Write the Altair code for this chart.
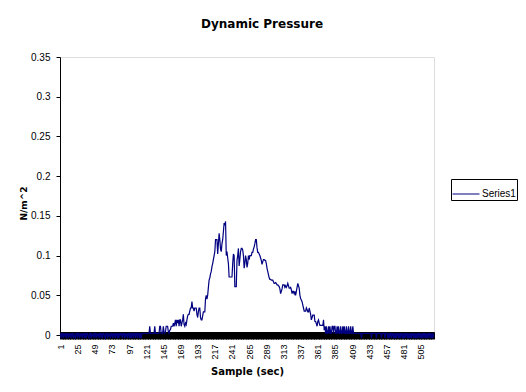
import altair as alt
import pandas as pd

# ---- data ----
quiet_start = [
    0.002, -0.004, 0.002, 0.002, -0.004, 0.002, -0.002, 0.002, -0.004, 0.002, 0.002, -0.004, 0.002,
    -0.002, 0.002, -0.004, 0.002, 0.002, -0.004, 0.002, -0.002, -0.004, 0.002, 0.002, -0.004,
    0.002, 0.002, -0.004, 0.002, -0.002, 0.002, -0.004, 0.002, 0.002, -0.004, 0.002, -0.004, 0.002,
    0.002, -0.002, -0.004, 0.002, 0.002, -0.004, 0.002, -0.002, 0.002, -0.004, 0.002, 0.002,
    -0.004, 0.002, -0.002, 0.002, -0.004, 0.002, 0.002, -0.004, 0.002, -0.004, 0.002, 0.002, -0.002,
    -0.004, 0.002, 0.002, -0.004, 0.002, -0.002, 0.002, -0.004, 0.002, 0.002, -0.004, 0.002,
    -0.002, 0.002, -0.004, 0.002, 0.002, -0.004, 0.002, -0.004, 0.002, 0.002, -0.002, 0.002, -0.004,
    0.002, 0.002, -0.004, 0.002, -0.002, 0.002, -0.004, 0.002, 0.002, -0.004, 0.002, -0.004,
    0.002, 0.002, -0.004, 0.002, 0.002, -0.004, 0.002, 0.002, -0.004, 0.002, 0.002, -0.004, 0.002,
    -0.004, 0.002, 0.002, 0.002, 0.002, 0.002, 0.002, 0.002, 0.002, 0.002, 0.002, 0.002,
]
rise = [
    0.011, 0.002, 0.002, 0.002, 0.002, 0.002, 0.002, 0.011, 0.002, 0.002, 0.002, 0.002, 0.002, 0.002,
    0.011, 0.011, 0.002, 0.002, 0.002, 0.011, 0.004, 0.002, 0.004,
    0.011, 0.011, 0.011, 0.004, 0.002, 0.006, 0.007, 0.011,
    0.011, 0.011, 0.015, 0.011, 0.015, 0.019, 0.011, 0.019,
    0.015, 0.019, 0.011, 0.019, 0.019, 0.011, 0.015, 0.019, 0.026,
    0.013, 0.011, 0.015, 0.013, 0.019, 0.024, 0.026, 0.026, 0.030, 0.034, 0.034,
    0.042, 0.034, 0.034, 0.030, 0.034, 0.034, 0.034, 0.026, 0.022, 0.029, 0.034,
    0.034, 0.022, 0.019, 0.019, 0.024, 0.029, 0.029, 0.029, 0.046,
    0.050, 0.045, 0.050, 0.060, 0.069, 0.072, 0.077, 0.080, 0.086, 0.090, 0.095,
    0.100, 0.105, 0.120, 0.120, 0.120, 0.102, 0.115, 0.128, 0.120, 0.108, 0.105,
    0.115, 0.120, 0.130, 0.141, 0.138, 0.143,
]
peak_and_fall = [
    0.100, 0.105, 0.097, 0.090, 0.073, 0.073, 0.073, 0.073, 0.073, 0.090, 0.102, 0.100,
    0.061, 0.061, 0.061, 0.094, 0.100, 0.109, 0.087, 0.095, 0.105, 0.109,
    0.109, 0.107, 0.100, 0.084, 0.090, 0.100, 0.095, 0.085, 0.090,
    0.100, 0.095, 0.100, 0.100, 0.100, 0.104, 0.104, 0.108, 0.111, 0.115,
    0.120, 0.120, 0.110, 0.104, 0.104, 0.102, 0.100, 0.097, 0.094,
    0.089, 0.092, 0.095, 0.095, 0.094, 0.094, 0.090, 0.084, 0.080,
    0.076, 0.072, 0.070, 0.070, 0.069, 0.069, 0.069, 0.067, 0.065, 0.065,
    0.066, 0.065, 0.063, 0.063, 0.062, 0.061, 0.058, 0.052, 0.055,
    0.058, 0.063, 0.063, 0.063, 0.060, 0.062, 0.060, 0.062, 0.065, 0.062,
    0.059, 0.059, 0.060, 0.057, 0.052, 0.055, 0.055, 0.052, 0.055,
    0.050, 0.055, 0.060, 0.065, 0.062, 0.059, 0.050, 0.046,
    0.044, 0.042, 0.038, 0.034, 0.030, 0.030, 0.030, 0.034,
    0.032, 0.029, 0.029, 0.034, 0.030, 0.026, 0.019, 0.022,
    0.025, 0.025, 0.025, 0.017, 0.017, 0.014, 0.011, 0.017,
    0.019, 0.015, 0.012, 0.012, 0.012, 0.012, 0.012, 0.019, 0.006,
]
settle = [
    0.011, 0.002, 0.011, 0.002, 0.002, 0.011, 0.002, 0.011, 0.002, 0.002, 0.011, 0.011, 0.002,
    0.011, 0.011, 0.002, 0.002, 0.011, 0.002, 0.011, 0.002, 0.002, 0.011, 0.002, 0.002, 0.011,
    0.002, 0.011, 0.002, 0.002, 0.011, 0.002, 0.002, 0.011, 0.002, 0.002, 0.011, 0.002, 0.002,
    0.011, 0.002, 0.002, 0.002,
    0.002, 0.002, 0.002, 0.002, 0.002, 0.002, 0.002, 0.002,
]
tail = [
    -0.004, 0.002, 0.002, 0.002, 0.002, 0.002, 0.002, 0.002, 0.002, 0.002, 0.002, 0.002, 0.002, 0.002,
    -0.004, 0.002, 0.002, 0.002, 0.002, 0.002, 0.002, -0.004, 0.002, 0.002, 0.002, 0.002, 0.002, 0.002,
    -0.004, 0.002, 0.002, 0.002, 0.002, -0.004, 0.002, 0.002, 0.002, -0.004, 0.002, -0.004, 0.002, 0.002,
    -0.004, 0.002, 0.002, -0.004, 0.002, -0.004, 0.002, -0.004, 0.002, 0.002, -0.004, 0.002, -0.004, 0.002,
    0.002, -0.004, 0.002, -0.004, 0.002, -0.004, 0.002, 0.002, -0.004, 0.002, -0.004, 0.002, -0.004, 0.002,
    -0.004, 0.002, 0.002, -0.004, 0.002, -0.004, 0.002, -0.004, 0.002, -0.004, 0.002, 0.002, -0.004, 0.002,
    -0.004, 0.002, -0.004, 0.002, 0.002, -0.004, 0.002, -0.004, 0.002, -0.004, 0.002, 0.002, -0.004, 0.002,
    -0.004, 0.002, -0.004, 0.002,
]
y_ticks = [0, 0.05, 0.1, 0.15, 0.2, 0.25, 0.3, 0.35]
series_name = "Series1"

values = quiet_start + rise + peak_and_fall + settle + tail
n = len(values)
samples = list(range(1, n + 1))
df = pd.DataFrame({"sample": samples, "value": values, "series": series_name})

FONT = "DejaVu Sans"
LFONT = "Liberation Sans"

chart = alt.Chart(df).mark_line(strokeWidth=1.2).encode(
    x=alt.X(
        "sample:Q",
        scale=alt.Scale(domain=[0.5, n + 0.5], nice=False, zero=False),
        axis=alt.Axis(
            values=samples,
            labelExpr="(datum.value - 1) % 24 == 0 ? datum.label : ''",
            labelAngle=270,
            labelOverlap=False,
            labelFlush=False,
            labelFont=LFONT,
            labelFontSize=9,
            labelColor="black",
            labelPadding=5,
            tickSize=7,
            tickColor="black",
            tickWidth=1,
            offset=-3,
            domainColor="black",
            grid=False,
            title="Sample (sec)",
            titleFont=FONT,
            titleFontSize=10,
            titleFontWeight="bold",
            titleColor="black",
            titleX=187,
            titleY=39,
            titleBaseline="middle",
        ),
    ),
    y=alt.Y(
        "value:Q",
        scale=alt.Scale(domain=[0, 0.35], nice=False, zero=False),
        axis=alt.Axis(
            values=y_ticks,
            format="~g",
            labelFont=LFONT,
            labelFontSize=10,
            labelColor="black",
            labelPadding=6,
            tickSize=4,
            tickColor="black",
            domainColor="black",
            grid=False,
            title="N/m^2",
            titleFont=FONT,
            titleFontSize=9,
            titleFontWeight="bold",
            titleColor="black",
            titleAngle=270,
            titleX=-37,
            titleY=146,
            titleAlign="center",
            titleBaseline="middle",
        ),
    ),
    color=alt.Color(
        "series:N",
        scale=alt.Scale(domain=[series_name], range=["#000080"]),
        legend=alt.Legend(
            title=None,
            orient="none",
            legendX=391,
            legendY=122,
            symbolType="stroke",
            symbolSize=729,
            symbolStrokeWidth=1,
            labelFont=LFONT,
            labelFontSize=10,
            labelColor="black",
            labelOffset=2,
            strokeColor="black",
            fillColor="white",
            padding=1,
            cornerRadius=0,
        ),
    ),
).properties(
    width=374,
    height=278,
    autosize=alt.AutoSizeParams(type="none"),
    padding={"left": 52, "top": 49, "right": 84, "bottom": 49},
    title=alt.Title(
        "Dynamic Pressure",
        anchor="middle",
        font=FONT,
        fontSize=12,
        fontWeight="bold",
        color="black",
        offset=16,
        dx=15,
        baseline="middle",
    ),
).configure_view(stroke="#808080", strokeWidth=1).configure(background="white")

chart.save("out.html", embed_options={"renderer": "svg", "actions": False})
